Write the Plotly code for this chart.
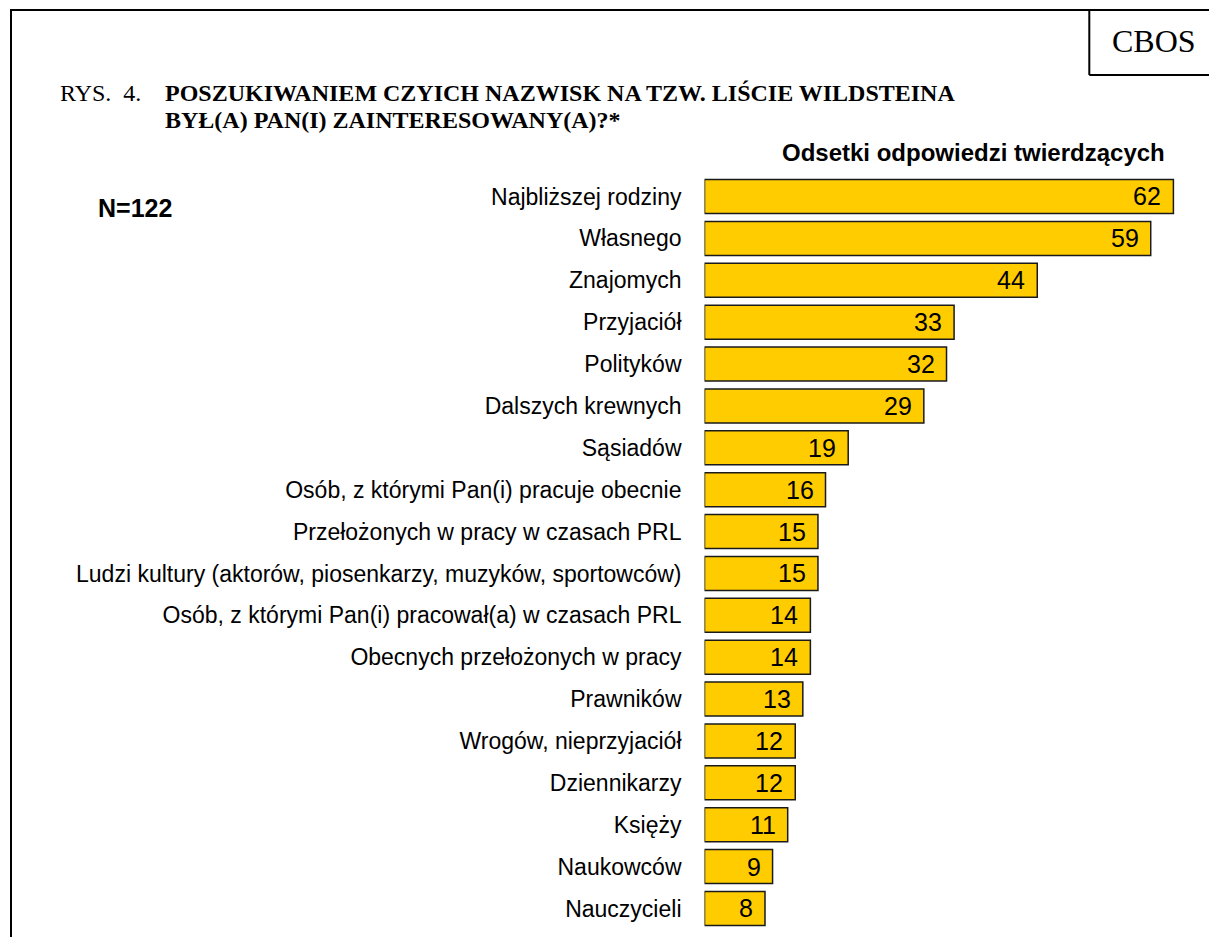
import plotly.graph_objects as go

categories = [
    "Najbliższej rodziny",
    "Własnego",
    "Znajomych",
    "Przyjaciół",
    "Polityków",
    "Dalszych krewnych",
    "Sąsiadów",
    "Osób, z którymi Pan(i) pracuje obecnie",
    "Przełożonych w pracy w czasach PRL",
    "Ludzi kultury (aktorów, piosenkarzy, muzyków, sportowców)",
    "Osób, z którymi Pan(i) pracował(a) w czasach PRL",
    "Obecnych przełożonych w pracy",
    "Prawników",
    "Wrogów, nieprzyjaciół",
    "Dziennikarzy",
    "Księży",
    "Naukowców",
    "Nauczycieli",
]
values = [62, 59, 44, 33, 32, 29, 19, 16, 15, 15, 14, 14, 13, 12, 12, 11, 9, 8]

title_prefix = "RYS.&nbsp;&nbsp;4."
title_line1 = "POSZUKIWANIEM CZYICH NAZWISK NA TZW. LIŚCIE WILDSTEINA"
title_line2 = "BYŁ(A) PAN(I) ZAINTERESOWANY(A)?*"
subtitle = "Odsetki odpowiedzi twierdzących"
n_label = "N=122"
brand = "CBOS"

W, H = 1209, 937


def px(x):
    return x / W


def py(y):
    return 1 - y / H


ARIAL = "Liberation Sans, Arial, sans-serif"
TIMES = "Liberation Serif, Times New Roman, serif"

x_max = 66
x0_px = 704.5
scale = 7.563
x1_px = x0_px + x_max * scale

fig = go.Figure()
fig.add_trace(go.Bar(
    x=values,
    y=categories,
    orientation="h",
    marker=dict(color="#FFCC00", line=dict(color="#1a1a1a", width=1.5)),
    hoverinfo="skip",
))

annotations = []
for c, v in zip(categories, values):
    annotations.append(dict(
        x=v, y=c, xref="x", yref="y", text=str(v), showarrow=False,
        xanchor="right", yanchor="middle", xshift=-10,
        font=dict(family=ARIAL, size=25, color="black"),
    ))

annotations += [
    dict(x=px(58), y=py(93), xref="paper", yref="paper", text=title_prefix,
         showarrow=False, xanchor="left", yanchor="middle",
         font=dict(family=TIMES, size=24, color="black")),
    dict(x=px(163), y=py(93), xref="paper", yref="paper", text="<b>" + title_line1 + "</b>",
         showarrow=False, xanchor="left", yanchor="middle",
         font=dict(family=TIMES, size=24, color="black")),
    dict(x=px(163), y=py(120), xref="paper", yref="paper", text="<b>" + title_line2 + "</b>",
         showarrow=False, xanchor="left", yanchor="middle",
         font=dict(family=TIMES, size=24, color="black")),
    dict(x=px(1167), y=py(153), xref="paper", yref="paper", text="<b>" + subtitle + "</b>",
         showarrow=False, xanchor="right", yanchor="middle",
         font=dict(family=ARIAL, size=24, color="black")),
    dict(x=px(96), y=py(208), xref="paper", yref="paper", text="<b>" + n_label + "</b>",
         showarrow=False, xanchor="left", yanchor="middle",
         font=dict(family=ARIAL, size=25, color="black")),
    dict(x=px(1154), y=py(41), xref="paper", yref="paper", text=brand,
         showarrow=False, xanchor="center", yanchor="middle",
         font=dict(family=TIMES, size=32, color="black")),
]

shapes = [
    dict(type="rect", xref="paper", yref="paper",
         x0=px(11), y0=py(960), x1=px(1230), y1=py(10),
         line=dict(color="black", width=2), fillcolor="rgba(0,0,0,0)", layer="above"),
    dict(type="line", xref="paper", yref="paper",
         x0=px(1089.3), y0=py(10), x1=px(1089.3), y1=py(75),
         line=dict(color="black", width=2)),
    dict(type="line", xref="paper", yref="paper",
         x0=px(1089.3), y0=py(75), x1=px(1230), y1=py(75),
         line=dict(color="black", width=2)),
]

spacing = (908.5 - 196.5) / 17
y_top = 196.5 - spacing / 2
y_bot = 908.5 + spacing / 2

fig.update_layout(
    width=W, height=H,
    margin=dict(l=0, r=0, t=0, b=0),
    paper_bgcolor="white", plot_bgcolor="white",
    showlegend=False,
    bargap=1 - 34 / spacing,
    xaxis=dict(domain=[px(x0_px), px(x1_px)], range=[0, x_max], visible=False),
    yaxis=dict(
        domain=[py(y_bot), py(y_top)],
        autorange="reversed",
        showline=False, showgrid=False, zeroline=False, ticks="",
        ticklabelstandoff=22,
        tickfont=dict(family=ARIAL, size=23, color="black"),
    ),
    annotations=annotations,
    shapes=shapes,
)

fig.write_html("out.html")
